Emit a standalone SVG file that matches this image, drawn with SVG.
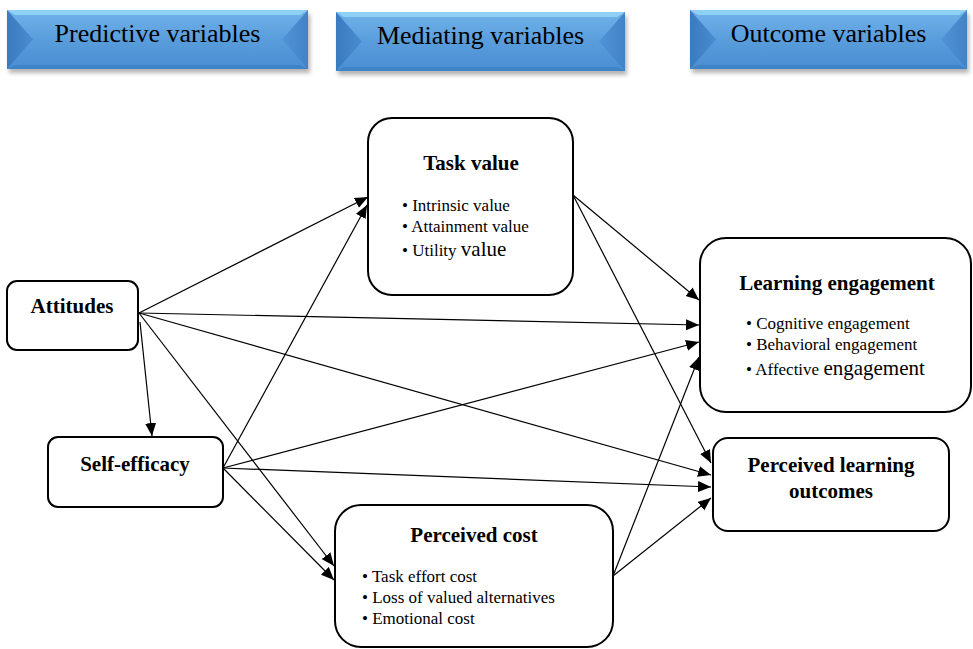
<svg xmlns="http://www.w3.org/2000/svg" width="973" height="649" viewBox="0 0 973 649">
<style>
.node{fill:#fff;stroke:#000;stroke-width:2}
.t{font-family:"Liberation Serif","Times New Roman",serif;fill:#000}
.title{font-size:21px;font-weight:bold;text-anchor:middle}
.b{font-size:17px}
.big{font-size:21px}
.hd{font-size:26px;text-anchor:middle}
.conn line{stroke:#000;stroke-width:1.2;marker-end:url(#ah)}
.bt{fill:#8fd0f6}
.bb{fill:#3e82c8}
.bl{fill:url(#lg)}
.br{fill:url(#rg)}
.bc{fill:url(#hg)}
.shd{fill:#777;opacity:0.55}
</style>
<defs>
<marker id="ah" markerUnits="userSpaceOnUse" markerWidth="14" markerHeight="12" refX="13" refY="5.5" orient="auto">
<path d="M0,0 L13,5.5 L0,11 Z" fill="#000"/>
</marker>
<linearGradient id="hg" x1="0" y1="0" x2="0" y2="1">
<stop offset="0" stop-color="#6fb3ea"/>
<stop offset="0.5" stop-color="#5a9ddc"/>
<stop offset="1" stop-color="#4a8dd2"/>
</linearGradient>
<linearGradient id="lg" x1="0" y1="0" x2="1" y2="0">
<stop offset="0" stop-color="#3a7bc0"/>
<stop offset="1" stop-color="#4a8ccf"/>
</linearGradient>
<linearGradient id="rg" x1="1" y1="0" x2="0" y2="0">
<stop offset="0" stop-color="#4283c8"/>
<stop offset="1" stop-color="#5193d6"/>
</linearGradient>
<filter id="sh" x="-5%" y="-20%" width="110%" height="150%">
<feGaussianBlur stdDeviation="2"/>
</filter>
</defs>

<g id="hdr-predictive">
<rect class="shd" x="9" y="14" width="301" height="59" filter="url(#sh)"/>
<rect class="bc" x="7" y="10" width="301" height="59"/>
<polygon class="bt" points="7,10 308,10 300,15 15,15"/>
<polygon class="bb" points="7,69 308,69 300,65 15,65"/>
<polygon class="bl" points="7,10 33,39.500 7,69"/>
<polygon class="br" points="308,10 282,39.500 308,69"/>
<text class="t hd" x="157.500" y="42">Predictive variables</text>
</g>

<g id="hdr-mediating">
<rect class="shd" x="338" y="16" width="289" height="59" filter="url(#sh)"/>
<rect class="bc" x="336" y="12" width="289" height="59"/>
<polygon class="bt" points="336,12 625,12 617,17 344,17"/>
<polygon class="bb" points="336,71 625,71 617,67 344,67"/>
<polygon class="bl" points="336,12 362,41.500 336,71"/>
<polygon class="br" points="625,12 599,41.500 625,71"/>
<text class="t hd" x="480.500" y="44">Mediating variables</text>
</g>

<g id="hdr-outcome">
<rect class="shd" x="692" y="14" width="277" height="59" filter="url(#sh)"/>
<rect class="bc" x="690" y="10" width="277" height="59"/>
<polygon class="bt" points="690,10 967,10 959,15 698,15"/>
<polygon class="bb" points="690,69 967,69 959,65 698,65"/>
<polygon class="bl" points="690,10 716,39.500 690,69"/>
<polygon class="br" points="967,10 941,39.500 967,69"/>
<text class="t hd" x="828.500" y="42">Outcome variables</text>
</g>

<g id="connectors" class="conn">
<line x1="139" y1="313" x2="368" y2="197"/>
<line x1="139" y1="313" x2="699" y2="325"/>
<line x1="139" y1="313" x2="711" y2="475"/>
<line x1="139" y1="313" x2="334" y2="566"/>
<line x1="140" y1="322" x2="152" y2="436"/>
<line x1="223" y1="468" x2="367" y2="205"/>
<line x1="223" y1="468" x2="699" y2="342"/>
<line x1="223" y1="468" x2="711" y2="487"/>
<line x1="223" y1="468" x2="334" y2="580"/>
<line x1="573" y1="195" x2="699" y2="300"/>
<line x1="573" y1="195" x2="711" y2="463"/>
<line x1="613" y1="576" x2="699" y2="357"/>
<line x1="613" y1="576" x2="711" y2="498"/>
</g>

<g id="attitudes">
<rect class="node" x="7" y="281" width="131" height="69" rx="10"/>
<text class="t title" x="72" y="313">Attitudes</text>
</g>

<g id="self-efficacy">
<rect class="node" x="48" y="437" width="175" height="70" rx="10"/>
<text class="t title" x="135" y="471">Self-efficacy</text>
</g>

<g id="task-value">
<rect class="node" x="368" y="118" width="205" height="177" rx="24"/>
<text class="t title" x="471" y="170">Task value</text>
<text class="t b" x="402" y="211">• Intrinsic value</text>
<text class="t b" x="402" y="232">• Attainment value</text>
<text class="t b" x="402" y="256">• Utility <tspan class="big">value</tspan></text>
</g>

<g id="learning-engagement">
<rect class="node" x="700" y="238" width="271" height="174" rx="26"/>
<text class="t title" x="837" y="290">Learning engagement</text>
<text class="t b" x="746" y="329">• Cognitive engagement</text>
<text class="t b" x="746" y="350">• Behavioral engagement</text>
<text class="t b" x="746" y="375">• Affective <tspan class="big">engagement</tspan></text>
</g>

<g id="perceived-learning-outcomes">
<rect class="node" x="713" y="438" width="236" height="93" rx="15"/>
<text class="t title" x="831" y="472">Perceived learning</text>
<text class="t title" x="831" y="498">outcomes</text>
</g>

<g id="perceived-cost">
<rect class="node" x="335" y="505" width="278" height="142" rx="26"/>
<text class="t title" x="474" y="542">Perceived cost</text>
<text class="t b" x="362" y="582">• Task effort cost</text>
<text class="t b" x="362" y="603">• Loss of valued alternatives</text>
<text class="t b" x="362" y="624">• Emotional cost</text>
</g>
</svg>
